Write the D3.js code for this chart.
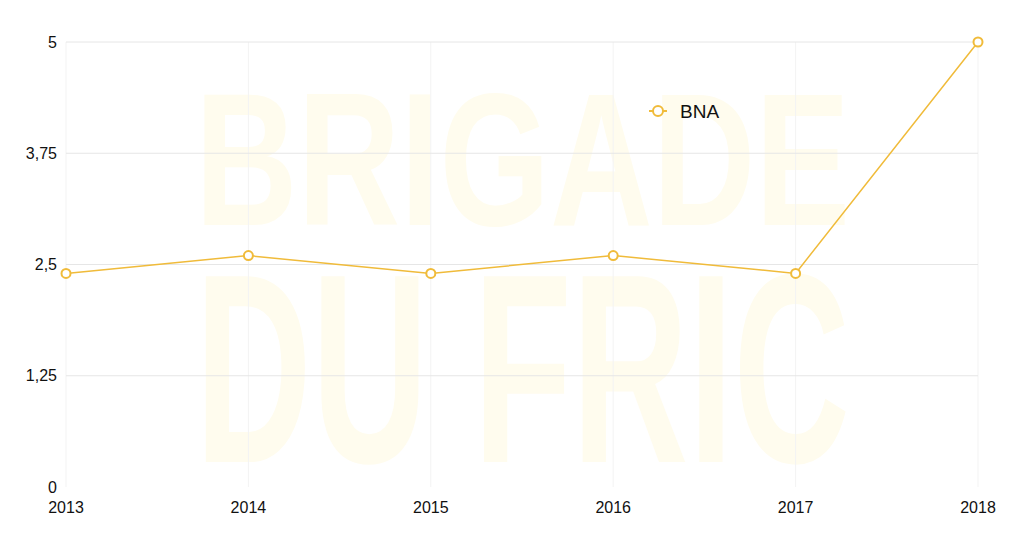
<!DOCTYPE html>
<html lang="fr">
<head>
<meta charset="utf-8">
<style>
body { margin: 0; background: #fff; }
text { font-family: "Liberation Sans", Arial, sans-serif; }
.grid line { stroke: #e6e6e6; stroke-width: 1; }
.vgrid line { stroke: #f3f3f3; stroke-width: 1; }
</style>
<script src="https://d3js.org/d3.v7.min.js"></script>
</head>
<body>
<svg width="1024" height="536"></svg>
<script>
var years = ["2013", "2014", "2015", "2016", "2017", "2018"];
var bna = [2.4, 2.6, 2.4, 2.6, 2.4, 5];
var yTicks = [0, 1.25, 2.5, 3.75, 5];
var seriesName = "BNA";
var color = "#f0bb3a";

var svg = d3.select("svg"),
    margin = {top: 42, right: 46, bottom: 49, left: 66},
    width = +svg.attr("width") - margin.left - margin.right,
    height = +svg.attr("height") - margin.top - margin.bottom;

var x = d3.scalePoint().domain(years).range([0, width]),
    y = d3.scaleLinear().domain([0, 5]).range([height, 0]);

// watermark
var wm = svg.append("g").attr("fill", "#fffcee")
    .style("font-family", "'Liberation Sans Narrow', 'DejaVu Sans Condensed', sans-serif")
    .style("font-weight", "bold");
wm.append("text").attr("x", 195).attr("y", 225).attr("font-size", 190)
    .attr("textLength", 655).attr("lengthAdjust", "spacingAndGlyphs").text("BRIGADE");
wm.append("text").attr("x", 195).attr("y", 462).attr("font-size", 270)
    .attr("textLength", 655).attr("lengthAdjust", "spacingAndGlyphs").text("DU FRIC");

var g = svg.append("g")
    .attr("transform", "translate(" + margin.left + "," + margin.top + ")");

g.append("g").attr("class", "vgrid")
  .selectAll("line").data(years).enter().append("line")
    .attr("x1", function(d) { return x(d); })
    .attr("x2", function(d) { return x(d); })
    .attr("y1", 0).attr("y2", height);

g.append("g").attr("class", "grid")
  .selectAll("line").data(yTicks.filter(function(d) { return d > 0; })).enter().append("line")
    .attr("x1", 0).attr("x2", width)
    .attr("y1", function(d) { return y(d); })
    .attr("y2", function(d) { return y(d); });

g.append("g").selectAll("text").data(yTicks).enter().append("text")
    .attr("x", -9)
    .attr("y", function(d) { return y(d); })
    .attr("dy", "0.35em")
    .attr("text-anchor", "end")
    .attr("font-size", 16)
    .attr("fill", "#111")
    .text(function(d) { return String(d).replace(".", ","); });

g.append("g").selectAll("text").data(years).enter().append("text")
    .attr("x", function(d) { return x(d); })
    .attr("y", height + 26)
    .attr("text-anchor", "middle")
    .attr("font-size", 16)
    .attr("fill", "#111")
    .text(function(d) { return d; });

var line = d3.line()
    .x(function(d, i) { return x(years[i]); })
    .y(function(d) { return y(d); });

g.append("path").datum(bna)
    .attr("fill", "none")
    .attr("stroke", color)
    .attr("stroke-width", 1.5)
    .attr("d", line);

g.selectAll(".dot").data(bna).enter().append("circle")
    .attr("class", "dot")
    .attr("cx", function(d, i) { return x(years[i]); })
    .attr("cy", function(d) { return y(d); })
    .attr("r", 4.5)
    .attr("fill", "#fff")
    .attr("stroke", color)
    .attr("stroke-width", 2);

// legend
var lg = svg.append("g").attr("transform", "translate(658,111)");
lg.append("line").attr("x1", -9).attr("x2", 9).attr("stroke", color).attr("stroke-width", 2);
lg.append("circle").attr("r", 5).attr("fill", "#fff").attr("stroke", color).attr("stroke-width", 2);
lg.append("text").attr("x", 22).attr("dy", "0.35em").attr("font-size", 19).attr("fill", "#111").text(seriesName);
</script>
</body>
</html>
